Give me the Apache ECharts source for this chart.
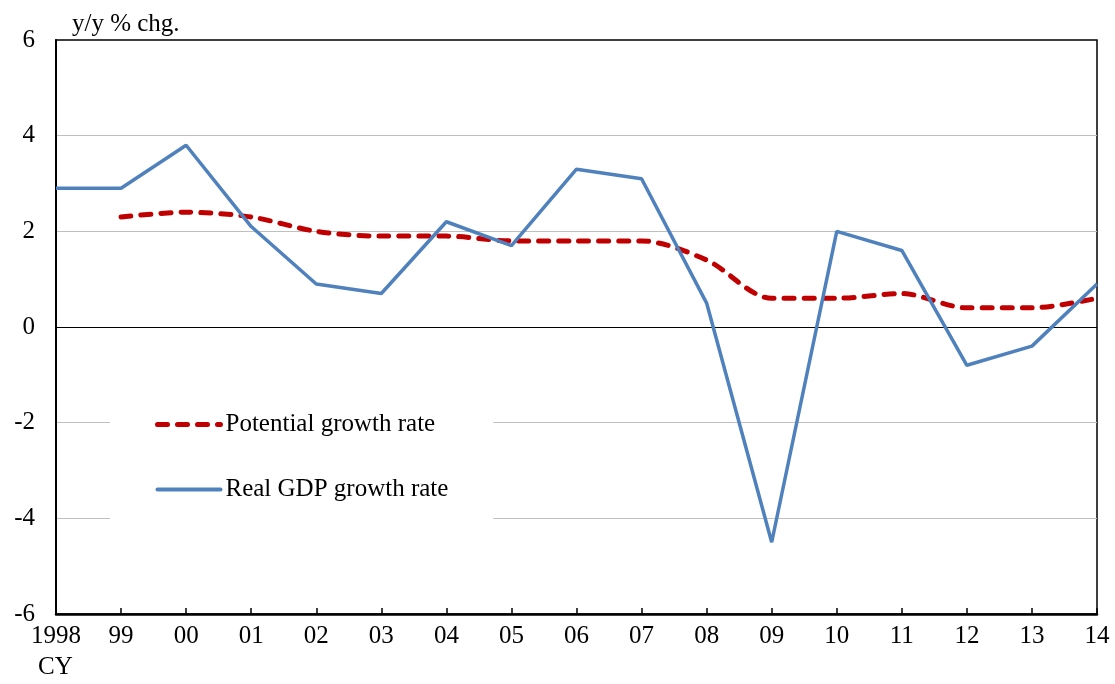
<!DOCTYPE html>
<html><head><meta charset="utf-8">
<script src="https://cdn.jsdelivr.net/npm/echarts@6/dist/echarts.min.js"></script>
<style>html,body{margin:0;padding:0;background:#fff}#c{width:1115px;height:684px}</style>
</head><body><div id="c"></div>
<script>
const categories = ['1998','99','00','01','02','03','04','05','06','07','08','09','10','11','12','13','14'];
const potential = [null,2.3,2.4,2.3,2.0,1.9,1.9,1.8,1.8,1.8,1.4,0.6,0.6,0.7,0.4,0.4,0.6];
const realGDP = [2.9,2.9,3.8,2.1,0.9,0.7,2.2,1.7,3.3,3.1,0.5,-4.5,2.0,1.6,-0.8,-0.4,0.9];
const yTicks = {min:-6,max:6,interval:2};
const FONT = '"Liberation Serif","Times New Roman",serif';
const FS = 25;
const chart = echarts.init(document.getElementById('c'));
chart.setOption({
  animation:false,
  grid:{left:56,right:18,top:40,bottom:70,show:true,borderColor:'#000',borderWidth:1.5,backgroundColor:'transparent'},
  legend:{
    orient:'vertical',left:110,top:395,padding:[17,45,22,45],itemGap:40,
    backgroundColor:'#fff',itemWidth:63,itemHeight:14,
    itemStyle:{opacity:0},
    textStyle:{fontFamily:FONT,fontSize:FS,color:'#000',lineHeight:25},
    data:[
      {name:'Potential growth rate',lineStyle:{width:5,type:[10,10],cap:'round',color:'#c00000'}},
      {name:'Real GDP growth rate',lineStyle:{width:4,color:'#4f81bd',cap:'round'}}
    ]
  },
  xAxis:{type:'category',data:categories,boundaryGap:false,
    axisLine:{onZero:false,lineStyle:{color:'#000',width:2.5}},
    axisTick:{inside:true,length:6,lineStyle:{color:'#000',width:1.5}},
    axisLabel:{fontFamily:FONT,fontSize:FS,color:'#000',margin:10,showMinLabel:true,showMaxLabel:true,interval:0},
    splitLine:{show:false}},
  yAxis:{type:'value',min:yTicks.min,max:yTicks.max,interval:yTicks.interval,
    axisLine:{show:true,lineStyle:{color:'#000',width:2}},
    axisTick:{show:false},
    axisLabel:{fontFamily:FONT,fontSize:FS,color:'#000',margin:21},
    splitLine:{show:true,lineStyle:{color:['rgba(0,0,0,0)','#bfbfbf','#bfbfbf','#000','#bfbfbf','#bfbfbf','rgba(0,0,0,0)'],width:1.2}}},
  graphic:[
    {type:'text',left:72,top:12,style:{text:'y/y % chg.',font:FS+'px '+FONT,fill:'#000'}},
    {type:'text',left:38,top:655,style:{text:'CY',font:FS+'px '+FONT,fill:'#000'}}
  ],
  series:[
    {name:'Potential growth rate',type:'line',data:potential,smooth:0.3,symbol:'none',
      lineStyle:{color:'#c00000',width:5,type:[10,10],cap:'round'},itemStyle:{color:'#c00000'},z:3},
    {name:'Real GDP growth rate',type:'line',data:realGDP,symbol:'none',
      lineStyle:{color:'#4f81bd',width:3.5},itemStyle:{color:'#4f81bd'},z:4}
  ]
});
</script></body></html>
